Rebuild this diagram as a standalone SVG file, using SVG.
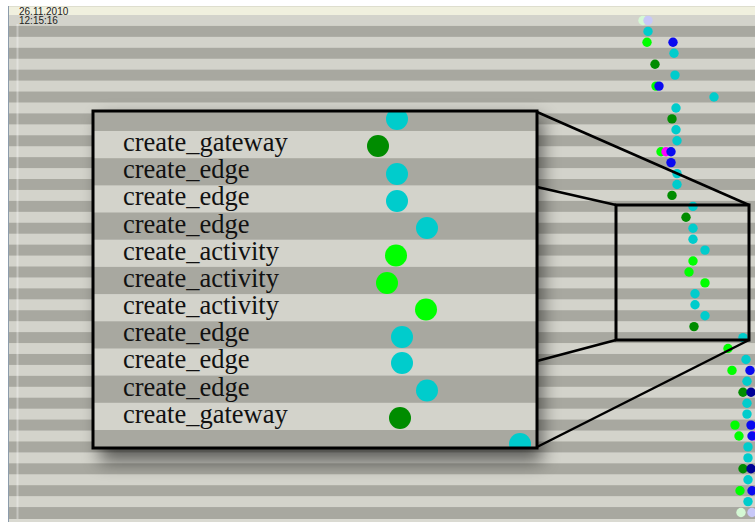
<svg xmlns="http://www.w3.org/2000/svg" width="755" height="524" viewBox="0 0 755 524">
<style>
.lt{fill:#d3d3cb}
.dk{fill:#a8a8a0}
.cy{fill:#00cccc}
.dg{fill:#008c00}
.gr{fill:#00ff00}
.bl{fill:#0a0af0}
.db{fill:#000096}
.mg{fill:#ff00ff}
.pg{fill:#d4f8d4}
.lv{fill:#c8c8f8}
.conn{stroke:#000;stroke-width:2.5;fill:none}
.lbl{font-family:"Liberation Serif","Times New Roman",serif;font-size:26.5px;fill:#111}
.hdr{font-family:"Liberation Sans",Arial,sans-serif;font-size:10px;fill:#222}
</style>
<defs>
<clipPath id="boxclip"><rect x="93.5" y="111.5" width="443" height="336"/></clipPath>
<filter id="shadow" x="-20%" y="-20%" width="140%" height="150%"><feGaussianBlur stdDeviation="9"/></filter>
</defs>
<rect width="755" height="524" fill="#ffffff"/>
<g id="background">
<rect x="9" y="6" width="746" height="9" fill="#f0f0de"/>
<rect x="9" y="6" width="746" height="1" fill="#dedece"/>
<rect class="lt" x="9" y="15" width="746" height="504"/>
<rect class="dk" x="9" y="25.93" width="746" height="10.94"/>
<rect class="dk" x="9" y="47.8" width="746" height="10.94"/>
<rect class="dk" x="9" y="69.67" width="746" height="10.94"/>
<rect class="dk" x="9" y="91.54" width="746" height="10.94"/>
<rect class="dk" x="9" y="113.41" width="746" height="10.94"/>
<rect class="dk" x="9" y="135.28" width="746" height="10.94"/>
<rect class="dk" x="9" y="157.15" width="746" height="10.94"/>
<rect class="dk" x="9" y="179.02" width="746" height="10.94"/>
<rect class="dk" x="9" y="200.89" width="746" height="10.94"/>
<rect class="dk" x="9" y="222.76" width="746" height="10.94"/>
<rect class="dk" x="9" y="244.63" width="746" height="10.94"/>
<rect class="dk" x="9" y="266.5" width="746" height="10.94"/>
<rect class="dk" x="9" y="288.37" width="746" height="10.94"/>
<rect class="dk" x="9" y="310.24" width="746" height="10.94"/>
<rect class="dk" x="9" y="332.11" width="746" height="10.94"/>
<rect class="dk" x="9" y="353.98" width="746" height="10.94"/>
<rect class="dk" x="9" y="375.85" width="746" height="10.94"/>
<rect class="dk" x="9" y="397.72" width="746" height="10.94"/>
<rect class="dk" x="9" y="419.59" width="746" height="10.94"/>
<rect class="dk" x="9" y="441.46" width="746" height="10.94"/>
<rect class="dk" x="9" y="463.33" width="746" height="10.94"/>
<rect class="dk" x="9" y="485.2" width="746" height="10.94"/>
<rect class="dk" x="9" y="507.07" width="746" height="11.93"/>
<rect x="9" y="519" width="746" height="3" fill="#dadad2"/>
<rect x="8" y="6" width="1" height="516" fill="#8c9cac"/>
<rect x="16.5" y="24" width="2" height="495" fill="#ffffff" opacity="0.35"/>
<text class="hdr" x="19" y="14.5">26.11.2010</text>
<text class="hdr" x="19" y="24">12:15:16</text>
</g>
<g id="dots">
<circle class="pg" cx="643" cy="20.5" r="4.7"/><circle class="lv" cx="648" cy="20.5" r="4.7"/>
<circle class="cy" cx="648" cy="31.4" r="4.7"/>
<circle class="gr" cx="647" cy="42.3" r="4.7"/><circle class="bl" cx="673" cy="42.3" r="4.7"/>
<circle class="cy" cx="674" cy="53.3" r="4.7"/>
<circle class="dg" cx="655" cy="64.2" r="4.7"/>
<circle class="cy" cx="675" cy="75.1" r="4.7"/>
<circle class="gr" cx="656" cy="86.1" r="4.7"/><circle class="bl" cx="659" cy="86.1" r="4.7"/>
<circle class="cy" cx="714" cy="97" r="4.7"/>
<circle class="cy" cx="676" cy="108" r="4.7"/>
<circle class="dg" cx="672" cy="118.9" r="4.7"/>
<circle class="cy" cx="676" cy="129.8" r="4.7"/>
<circle class="cy" cx="677" cy="140.8" r="4.7"/>
<circle class="gr" cx="661" cy="151.7" r="4.7"/><circle class="mg" cx="666" cy="151.7" r="4.7"/><circle class="bl" cx="671" cy="151.7" r="4.7"/>
<circle class="bl" cx="671" cy="162.6" r="4.7"/>
<circle class="cy" cx="677" cy="173.6" r="4.7"/>
<circle class="cy" cx="677" cy="184.5" r="4.7"/>
<circle class="dg" cx="672" cy="195.4" r="4.7"/>
<circle class="cy" cx="693" cy="206.4" r="4.7"/>
<circle class="dg" cx="686" cy="217.3" r="4.7"/>
<circle class="cy" cx="693" cy="228.2" r="4.7"/>
<circle class="cy" cx="693" cy="239.2" r="4.7"/>
<circle class="cy" cx="705" cy="250.1" r="4.7"/>
<circle class="gr" cx="693" cy="261" r="4.7"/>
<circle class="gr" cx="689" cy="272" r="4.7"/>
<circle class="gr" cx="705" cy="282.9" r="4.7"/>
<circle class="cy" cx="695" cy="293.8" r="4.7"/>
<circle class="cy" cx="695" cy="304.8" r="4.7"/>
<circle class="cy" cx="705" cy="315.7" r="4.7"/>
<circle class="dg" cx="694" cy="326.6" r="4.7"/>
<circle class="cy" cx="743" cy="337.6" r="4.7"/>
<circle class="gr" cx="728" cy="348.5" r="4.7"/>
<circle class="cy" cx="746" cy="359.5" r="4.7"/>
<circle class="gr" cx="732" cy="370.4" r="4.7"/><circle class="bl" cx="750" cy="370.4" r="4.7"/>
<circle class="cy" cx="747" cy="381.3" r="4.7"/>
<circle class="dg" cx="743" cy="392.3" r="4.7"/><circle class="db" cx="751" cy="392.3" r="4.7"/>
<circle class="cy" cx="747" cy="403.2" r="4.7"/>
<circle class="cy" cx="747" cy="414.1" r="4.7"/>
<circle class="gr" cx="735" cy="425.1" r="4.7"/><circle class="bl" cx="751" cy="425.1" r="4.7"/>
<circle class="gr" cx="739" cy="436" r="4.7"/><circle class="mg" cx="755" cy="436" r="4.7"/><circle class="bl" cx="752" cy="436" r="4.7"/>
<circle class="cy" cx="748" cy="446.9" r="4.7"/>
<circle class="cy" cx="748" cy="457.9" r="4.7"/>
<circle class="dg" cx="743" cy="468.8" r="4.7"/><circle class="db" cx="751" cy="468.8" r="4.7"/>
<circle class="cy" cx="748" cy="479.7" r="4.7"/>
<circle class="gr" cx="740" cy="490.7" r="4.7"/><circle class="bl" cx="752" cy="490.7" r="4.7"/>
<circle class="cy" cx="748" cy="501.6" r="4.7"/>
<circle class="pg" cx="741" cy="512.5" r="4.7"/><circle class="lv" cx="752" cy="512.5" r="4.7"/>
</g>
<g id="connectors">
<line class="conn" x1="537" y1="112" x2="749" y2="205"/>
<line class="conn" x1="537" y1="187" x2="616" y2="205"/>
<line class="conn" x1="537" y1="361" x2="616" y2="340"/>
<line class="conn" x1="537" y1="447" x2="749" y2="340"/>
</g>
<g id="focus-rect">
<rect x="616" y="205" width="133" height="135" fill="none" stroke="#000" stroke-width="3"/>
</g>
<g id="magnifier">
<rect x="100" y="118" width="442" height="344" fill="#000" opacity="0.55" filter="url(#shadow)"/>
<g clip-path="url(#boxclip)">
<rect class="lt" x="92" y="110" width="446" height="340"/>
<rect class="dk" x="92" y="103.8" width="446" height="27.18"/>
<rect class="dk" x="92" y="158.2" width="446" height="27.18"/>
<rect class="dk" x="92" y="212.5" width="446" height="27.18"/>
<rect class="dk" x="92" y="266.9" width="446" height="27.18"/>
<rect class="dk" x="92" y="321.3" width="446" height="27.18"/>
<rect class="dk" x="92" y="375.6" width="446" height="27.18"/>
<rect class="dk" x="92" y="430" width="446" height="27.18"/>
<circle class="cy" cx="397" cy="119" r="11"/>
<circle class="dg" cx="378" cy="146" r="11"/>
<circle class="cy" cx="397" cy="174" r="11"/>
<circle class="cy" cx="397" cy="201" r="11"/>
<circle class="cy" cx="427" cy="228" r="11"/>
<circle class="gr" cx="396" cy="255.5" r="11"/>
<circle class="gr" cx="387" cy="283" r="11"/>
<circle class="gr" cx="426" cy="309.5" r="11"/>
<circle class="cy" cx="402" cy="337" r="11"/>
<circle class="cy" cx="402" cy="363" r="11"/>
<circle class="cy" cx="427" cy="390.5" r="11"/>
<circle class="dg" cx="400" cy="418" r="11"/>
<circle class="cy" cx="520" cy="444" r="11"/>
<text class="lbl" x="123" y="151">create_gateway</text>
<text class="lbl" x="123" y="178.2">create_edge</text>
<text class="lbl" x="123" y="205.4">create_edge</text>
<text class="lbl" x="123" y="232.5">create_edge</text>
<text class="lbl" x="123" y="259.7">create_activity</text>
<text class="lbl" x="123" y="286.9">create_activity</text>
<text class="lbl" x="123" y="314.1">create_activity</text>
<text class="lbl" x="123" y="341.3">create_edge</text>
<text class="lbl" x="123" y="368.4">create_edge</text>
<text class="lbl" x="123" y="395.6">create_edge</text>
<text class="lbl" x="123" y="422.8">create_gateway</text>
</g>
<rect x="93" y="111" width="444" height="337" fill="none" stroke="#000" stroke-width="3"/>
</g>
</svg>
